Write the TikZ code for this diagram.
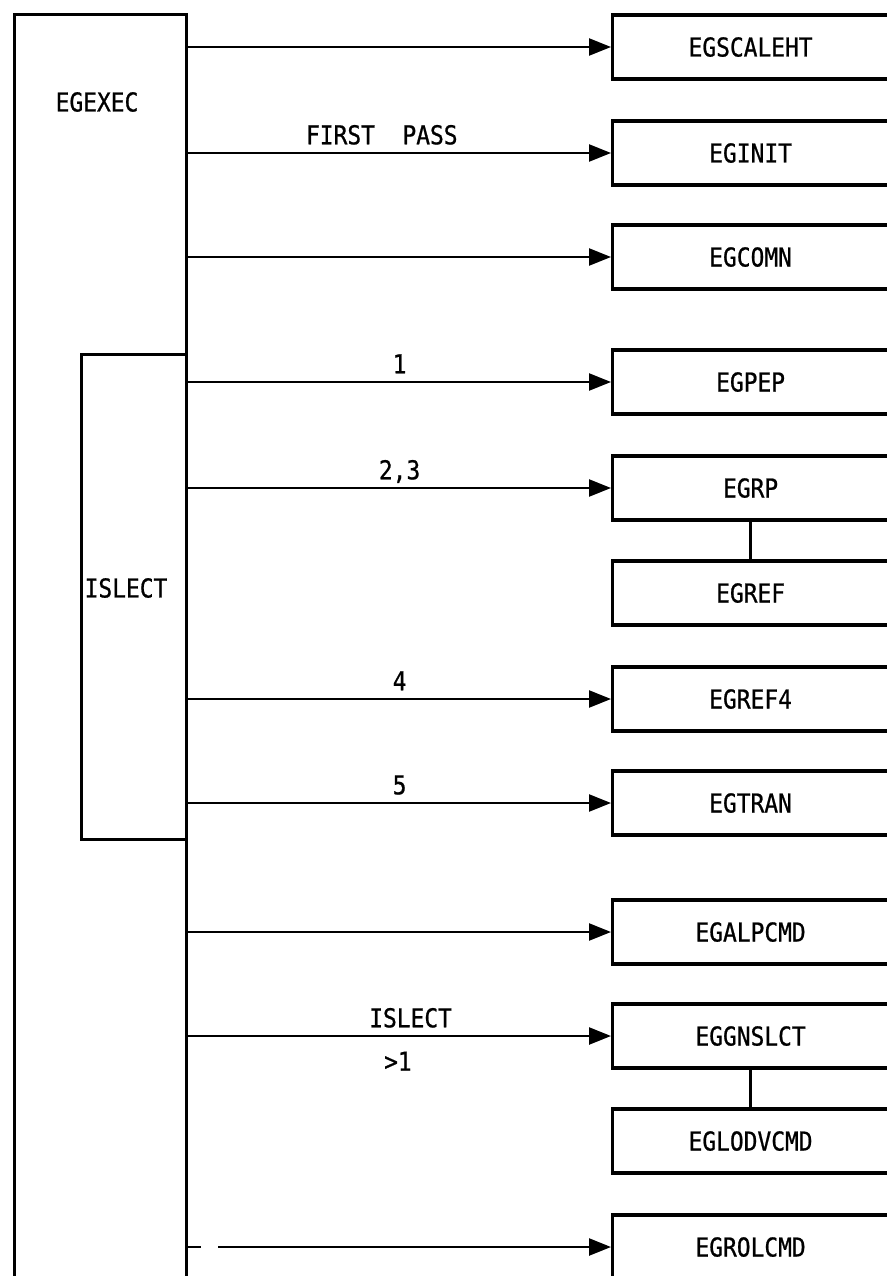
\documentclass[tikz,border=0pt]{standalone}
\usepackage{fontspec}
\newfontfamily\lpfont[FakeStretch=0.88,FakeBold=0.8]{DejaVu Sans Mono}
\usetikzlibrary{arrows.meta}
\begin{document}
\begin{tikzpicture}[x=1pt,y=-1pt,
  every node/.style={font=\lpfont\fontsize{26}{30}\selectfont, inner sep=0pt},
  box/.style={draw, line width=3.2pt, minimum width=276pt, minimum height=64pt,
    anchor=west, text height=19pt, text depth=0pt},
  frame/.style={draw, line width=3.2pt, anchor=north west},
  call/.style={line width=2.4pt, -{Triangle[length=22pt,width=17pt]}},
  lab/.style={above, yshift=7.5pt, text height=19pt, text depth=0pt},
  labbelow/.style={below, yshift=-14.5pt, text height=19pt, text depth=0pt},
  link/.style={line width=2.8pt}]
\useasboundingbox (0,0) rectangle (886,1276);
% main frames
\node[frame, minimum width=172pt, minimum height=1300pt] (exec) at (13,13) {};
\node (execlab) at (97,102) {EGEXEC};
\node[frame, minimum width=105pt, minimum height=485pt] (isl) at (80,353) {};
\node (isllab) at (126,588) {ISLECT};
% called routines
\node[box] (b1) at (611,47) {EGSCALEHT};
\node[box] (b2) at (611,153) {EGINIT};
\node[box] (b3) at (611,257) {EGCOMN};
\node[box] (b4) at (611,382) {EGPEP};
\node[box] (b5) at (611,488) {EGRP};
\node[box] (b6) at (611,593) {EGREF};
\node[box] (b7) at (611,699) {EGREF4};
\node[box] (b8) at (611,803) {EGTRAN};
\node[box] (b9) at (611,932) {EGALPCMD};
\node[box] (b10) at (611,1036) {EGGNSLCT};
\node[box] (b11) at (611,1141) {EGLODVCMD};
\node[box] (b12) at (611,1247) {EGROLCMD};
% connectors
\draw[call] (exec.east |- b1.west) -- (b1.west);
\draw[call] (exec.east |- b2.west) -- node[lab, pos=0.458] (l2) {FIRST\ \ PASS} (b2.west);
\draw[call] (exec.east |- b3.west) -- (b3.west);
\draw[call] (exec.east |- b4.west) -- node[lab] (l4) {1} (b4.west);
\draw[call] (exec.east |- b5.west) -- node[lab] (l5) {2,3} (b5.west);
\draw[link] (b5.south) -- (b6.north);
\draw[call] (exec.east |- b7.west) -- node[lab] (l7) {4} (b7.west);
\draw[call] (exec.east |- b8.west) -- node[lab] (l8) {5} (b8.west);
\draw[call] (exec.east |- b9.west) -- (b9.west);
\draw[call] (exec.east |- b10.west) -- node[lab, pos=0.526] (l10) {ISLECT}
  node[labbelow, pos=0.496] (l10b) {>1} (b10.west);
\draw[link] (b10.south) -- (b11.north);
\draw[call, dash pattern=on 13pt off 17pt on 1000pt] (exec.east |- b12.west) -- (b12.west);
\end{tikzpicture}
\end{document}
